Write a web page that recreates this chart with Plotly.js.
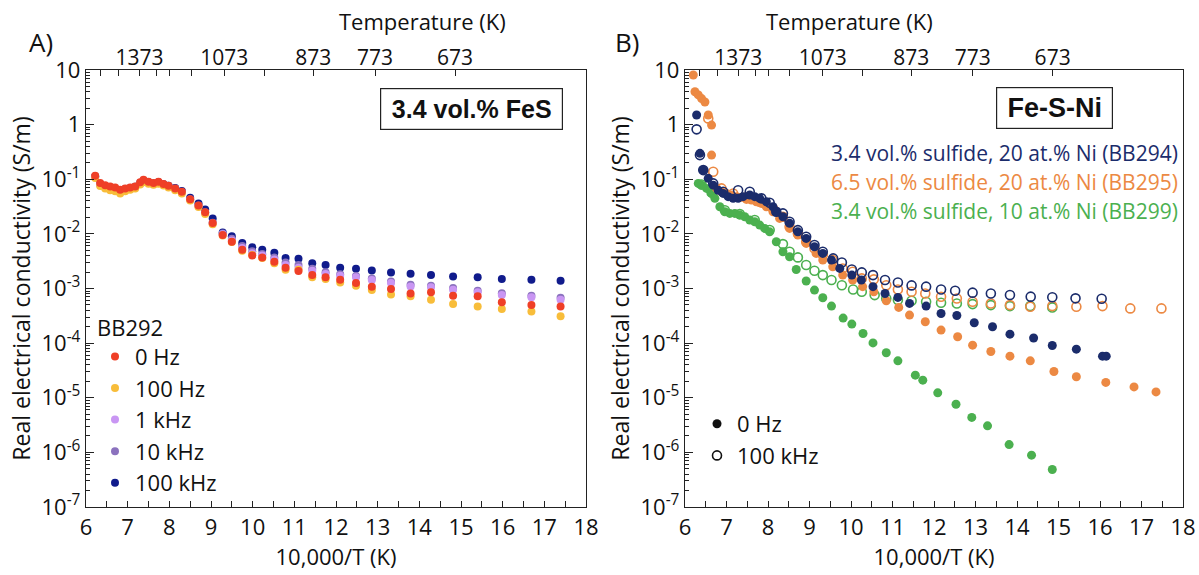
<!DOCTYPE html>
<html><head><meta charset="utf-8">
<script src="https://cdn.plot.ly/plotly-3.0.1.min.js"></script>
<style>html,body{margin:0;padding:0;background:#fff}#chart{width:1199px;height:575px}</style>
</head><body><div id="chart"></div>
<script>
// ---------- Panel A: BB292, 3.4 vol.% FeS ----------
const invT_A = [6.22,6.34,6.46,6.58,6.70,6.82,6.94,7.06,7.18,7.30,7.38,7.50,7.62,7.74,7.86,7.98,8.14,8.30,8.50,8.70,8.86,9.04,9.28,9.50,9.75,9.99,10.23,10.52,10.79,11.10,11.43,11.75,12.10,12.48,12.86,13.32,13.79,14.28,14.81,15.40,15.98,16.69,17.39];
const bb292_0Hz = [0.116,0.085,0.078,0.074,0.071,0.064,0.068,0.071,0.074,0.088,0.098,0.090,0.085,0.090,0.082,0.076,0.068,0.059,0.043,0.033,0.025,0.0158,0.0095,0.0072,0.0051,0.0040,0.0037,0.0031,0.0024,0.0021,0.00176,0.00160,0.00145,0.00126,0.00108,0.00098,0.00081,0.00085,0.00074,0.00072,0.00056,0.00050,0.00047];
const bb292_100Hz = [0.105,0.075,0.068,0.063,0.060,0.055,0.060,0.064,0.068,0.080,0.088,0.083,0.079,0.083,0.077,0.071,0.063,0.055,0.041,0.031,0.023,0.0150,0.0093,0.0071,0.0049,0.0041,0.0036,0.0029,0.0022,0.0022,0.0016,0.00149,0.00129,0.00112,0.00094,0.00078,0.00072,0.00062,0.00052,0.00047,0.00042,0.00038,0.00031];
const bb292_1kHz = [0.110,0.079,0.071,0.067,0.064,0.059,0.063,0.067,0.071,0.083,0.092,0.086,0.082,0.086,0.079,0.073,0.066,0.057,0.042,0.032,0.024,0.0155,0.0098,0.0076,0.0055,0.0044,0.0040,0.0034,0.0027,0.0024,0.00211,0.00184,0.00171,0.00160,0.00143,0.00126,0.00109,0.00105,0.00095,0.00085,0.00076,0.00069,0.00062];
const bb292_10kHz = [0.112,0.081,0.072,0.068,0.065,0.060,0.064,0.068,0.072,0.085,0.094,0.088,0.084,0.088,0.081,0.075,0.067,0.058,0.043,0.033,0.025,0.0160,0.0102,0.0081,0.0060,0.0048,0.0043,0.0037,0.0030,0.0027,0.0023,0.00198,0.00182,0.00170,0.00152,0.00135,0.00117,0.00112,0.00102,0.00091,0.00082,0.00074,0.00068];
const bb292_100kHz = [0.112,0.082,0.074,0.070,0.067,0.062,0.066,0.069,0.073,0.085,0.094,0.088,0.084,0.088,0.081,0.076,0.069,0.061,0.046,0.036,0.028,0.0192,0.0106,0.0090,0.0068,0.0057,0.0051,0.0045,0.0036,0.0035,0.0029,0.0027,0.0024,0.0023,0.00214,0.00197,0.00186,0.00176,0.00166,0.00160,0.00149,0.00144,0.00138];
const freqLabelsA = ['0 Hz','100 Hz','1 kHz','10 kHz','100 kHz'];

// ---------- Panel B: Fe-S-Ni ----------
const bb294_0Hz_x = [6.28,6.36,6.44,6.56,6.68,6.80,6.92,7.04,7.16,7.28,7.40,7.56,7.68,7.80,7.96,8.12,8.20,8.36,8.52,8.72,8.92,9.12,9.32,9.53,9.73,10.02,10.25,10.53,10.82,11.13,11.41,11.81,12.17,12.55,12.97,13.41,13.83,14.40,14.85,15.43,16.06,16.15];
const bb294_0Hz_y = [1.50,0.298,0.147,0.104,0.078,0.063,0.055,0.048,0.0447,0.0447,0.048,0.0514,0.048,0.0447,0.0388,0.0314,0.0254,0.0206,0.0156,0.0109,0.00826,0.00581,0.00439,0.00331,0.00233,0.00176,0.00143,0.00108,0.00081,0.000686,0.000533,0.000476,0.000349,0.000321,0.000236,0.000199,0.000146,0.000124,0.0000906,0.0000776,0.0000578,0.0000578];
const bb294_100kHz_x = [6.28,6.36,6.44,6.68,6.92,7.28,7.56,7.84,8.04,8.20,8.36,8.52,8.72,8.92,9.12,9.32,9.57,9.78,10.02,10.26,10.53,10.82,11.13,11.46,11.81,12.17,12.51,12.93,13.37,13.83,14.33,14.85,15.41,16.04];
const bb294_100kHz_y = [0.82,0.277,0.147,0.084,0.059,0.063,0.059,0.0447,0.0372,0.0254,0.0237,0.0167,0.0117,0.00885,0.00624,0.00471,0.00356,0.0030,0.00223,0.00197,0.00176,0.00143,0.00129,0.00114,0.00108,0.00096,0.00091,0.00084,0.00081,0.00076,0.00071,0.00069,0.00066,0.00065];
const bb295_0Hz_x = [6.20,6.24,6.32,6.40,6.48,6.56,6.64,6.64,6.76,6.88,7.00,7.12,7.24,7.36,7.48,7.60,7.72,7.84,7.96,8.12,8.28,8.52,8.72,8.92,9.16,9.32,9.56,9.80,10.04,10.28,10.55,10.85,11.15,11.41,11.79,12.17,12.57,12.93,13.37,13.83,14.32,14.89,15.43,16.14,16.82,17.35];
const bb295_0Hz_y = [8.1,4.0,3.5,3.0,2.6,1.5,0.98,0.277,0.068,0.059,0.055,0.0514,0.048,0.0466,0.0428,0.0416,0.0388,0.0361,0.0314,0.0254,0.0192,0.0126,0.0095,0.00669,0.00439,0.00331,0.0025,0.00176,0.00143,0.00108,0.00087,0.000596,0.00045,0.000326,0.000246,0.000173,0.000131,0.0000919,0.0000703,0.0000578,0.0000474,0.0000303,0.0000242,0.0000191,0.0000158,0.0000128];
const bb295_100kHz_x = [6.56,6.68,6.88,7.16,7.48,7.80,8.12,8.36,8.52,8.72,8.92,9.12,9.32,9.56,9.80,10.04,10.26,10.55,10.85,11.13,11.46,11.79,12.17,12.55,12.93,13.37,13.83,14.32,14.85,15.43,16.06,16.73,17.48];
const bb295_100kHz_y = [1.30,0.137,0.068,0.055,0.0466,0.0388,0.0292,0.0206,0.0135,0.0102,0.00718,0.00542,0.00409,0.00331,0.00233,0.00202,0.00153,0.00147,0.00115,0.00096,0.00087,0.00081,0.000706,0.000658,0.000571,0.000533,0.000497,0.000463,0.000476,0.000463,0.000476,0.000432,0.000432];
const bb299_0Hz_x = [6.32,6.40,6.52,6.64,6.72,6.84,6.96,7.08,7.20,7.32,7.44,7.56,7.68,7.80,7.92,8.04,8.20,8.36,8.52,8.68,8.92,9.12,9.32,9.53,9.81,10.02,10.29,10.53,10.85,11.13,11.55,11.73,12.09,12.53,12.91,13.29,13.81,14.35,14.85];
const bb299_0Hz_y = [0.084,0.078,0.068,0.055,0.0447,0.0314,0.0254,0.0237,0.0237,0.0221,0.0206,0.0179,0.0167,0.0145,0.0126,0.0109,0.00718,0.00471,0.00381,0.00223,0.00137,0.000935,0.000676,0.000476,0.000287,0.000223,0.000150,0.000101,0.0000665,0.0000474,0.0000259,0.0000210,0.0000123,0.0000076,0.00000436,0.00000306,0.00000139,0.00000089,0.000000485];
const bb299_100kHz_x = [6.40,6.64,6.96,7.32,7.68,8.04,8.36,8.52,8.72,8.92,9.12,9.32,9.53,9.78,10.05,10.26,10.57,10.85,11.13,11.46,11.81,12.17,12.55,12.93,13.37,13.83,14.32,14.85];
const bb299_100kHz_y = [0.080,0.057,0.027,0.023,0.018,0.0118,0.0065,0.00471,0.00371,0.00269,0.00211,0.00176,0.00143,0.00115,0.00096,0.00087,0.000757,0.000658,0.000614,0.000596,0.000571,0.000548,0.000533,0.000518,0.000497,0.000476,0.000476,0.00045];
const seriesLabelsB = ['3.4 vol.% sulfide, 20 at.% Ni (BB294)','6.5 vol.% sulfide, 20 at.% Ni (BB295)','3.4 vol.% sulfide, 10 at.% Ni (BB299)'];

// ---------- Axis ticks ----------
const decadeVals = [1e-7,1e-6,1e-5,1e-4,1e-3,1e-2,1e-1,1,10];
const decadeText = ['10<sup>-7</sup>','10<sup>-6</sup>','10<sup>-5</sup>','10<sup>-4</sup>','10<sup>-3</sup>','10<sup>-2</sup>','10<sup>-1</sup>','1','10'];
const topTemps = [1573,1473,1373,1300,1250,1173,1073,973,873,773,673];
const topLabels = ['','','1373','','','','1073','','873','773','673'];
const invTicks = [6,7,8,9,10,11,12,13,14,15,16,17,18];

// ---------- build ----------
const FONT = '"Open Sans", "Noto Sans", sans-serif';
const W = 1199, H = 575;
const px = v => v / W, py = v => 1 - v / H;
const minorY = [];
for (let e = -7; e < 1; e++) for (let m = 2; m <= 9; m++) minorY.push(m * Math.pow(10, e));
const topVals = topTemps.map(t => 10000 / t);

const colA = {'0 Hz':'#ef3f27','100 Hz':'#f8bd3a','1 kHz':'#c996f3','10 kHz':'#8b72be','100 kHz':'#101b8c'};
const valsA = {'0 Hz':bb292_0Hz,'100 Hz':bb292_100Hz,'1 kHz':bb292_1kHz,'10 kHz':bb292_10kHz,'100 kHz':bb292_100kHz};
const cNavy = '#1b2c6b', cOrange = '#ec8943', cGreen = '#4bb04f';

const traces = [];
freqLabelsA.slice().reverse().forEach(lab => {
  traces.push({type:'scatter', mode:'markers', x:invT_A, y:valsA[lab], name:lab, xaxis:'x', yaxis:'y',
    marker:{size:8, color:colA[lab]}, legend:'legend'});
});
const filled = (x, y, c) => ({type:'scatter', mode:'markers', x, y, xaxis:'x2', yaxis:'y2', showlegend:false,
  marker:{size:9, color:c}});
const open = (x, y, c) => ({type:'scatter', mode:'markers', x, y, xaxis:'x2', yaxis:'y2', showlegend:false,
  marker:{size:9, symbol:'circle-open', color:c, line:{width:1.6, color:c}}});
traces.push(open(bb299_100kHz_x, bb299_100kHz_y, cGreen));
traces.push(filled(bb299_0Hz_x, bb299_0Hz_y, cGreen));
traces.push(open(bb295_100kHz_x, bb295_100kHz_y, cOrange));
traces.push(filled(bb295_0Hz_x, bb295_0Hz_y, cOrange));
traces.push(open(bb294_100kHz_x, bb294_100kHz_y, cNavy));
traces.push(filled(bb294_0Hz_x, bb294_0Hz_y, cNavy));
// legend entries for panel B (symbol key only)
traces.push({type:'scatter', mode:'markers', x:[null], y:[null], xaxis:'x2', yaxis:'y2', name:'0 Hz', legend:'legend2',
  marker:{size:9, color:'#111'}});
traces.push({type:'scatter', mode:'markers', x:[null], y:[null], xaxis:'x2', yaxis:'y2', name:'100 kHz', legend:'legend2',
  marker:{size:9, symbol:'circle-open', color:'#111', line:{width:1.6, color:'#111'}}});
// empty carriers so the top (temperature) axes are drawn
traces.push({type:'scatter', mode:'markers', x:[null], y:[null], xaxis:'x3', yaxis:'y', showlegend:false, hoverinfo:'skip'});
traces.push({type:'scatter', mode:'markers', x:[null], y:[null], xaxis:'x4', yaxis:'y2', showlegend:false, hoverinfo:'skip'});

const lineC = '#222';
function bottomX(dom, anchor) {
  return {domain:dom, anchor, range:[6,18], tickmode:'array', tickvals:invTicks, ticktext:invTicks.map(String),
    ticks:'inside', ticklen:6, tickcolor:lineC, tickwidth:1,
    minor:{dtick:0.5, ticks:'inside', ticklen:6, tickcolor:lineC, tickwidth:1},
    showline:true, linecolor:lineC, linewidth:1.2, mirror:true, showgrid:false, zeroline:false,
    tickfont:{size:22, color:'#111'}, automargin:false,
    title:{text:'10,000/T (K)', font:{size:22, color:'#111'}, standoff:3}};
}
function topX(over, anchor) {
  return {overlaying:over, anchor, side:'top', range:[6,18], tickmode:'array', tickvals:topVals, ticktext:topLabels,
    ticks:'inside', ticklen:6, tickcolor:lineC, tickwidth:1, showline:false, showgrid:false, zeroline:false,
    tickfont:{size:21, color:'#111'}, automargin:false};
}
function leftY(anchor) {
  return {domain:[py(507), py(70)], anchor, type:'log', range:[-7,1], tickmode:'array', tickvals:decadeVals, ticktext:decadeText,
    ticks:'inside', ticklen:8, tickcolor:lineC, tickwidth:1,
    minor:{tickmode:'array', tickvals:minorY, ticks:'inside', ticklen:4, tickcolor:lineC, tickwidth:1},
    showline:true, linecolor:lineC, linewidth:1.2, mirror:true, showgrid:false, zeroline:false,
    tickfont:{size:22, color:'#111'}, automargin:false,
    title:{text:'Real electrical conductivity (S/m)', font:{size:23, color:'#111'}, standoff:4}};
}

const ann = (text, x, y, opts={}) => Object.assign({text, xref:'paper', yref:'paper', x:px(x), y:py(y), showarrow:false,
  yanchor:'middle', font:{family:FONT, size:21, color:'#111'}}, opts);

const layout = {
  width:W, height:H, margin:{l:0,r:0,t:0,b:0}, paper_bgcolor:'#fff', plot_bgcolor:'#fff',
  font:{family:FONT, color:'#111'},
  xaxis: bottomX([px(86), px(586)], 'y'),
  yaxis: leftY('x'),
  xaxis2: bottomX([px(685), px(1183)], 'y2'),
  yaxis2: leftY('x2'),
  xaxis3: topX('x', 'y'),
  xaxis4: topX('x2', 'y2'),
  legend:{x:px(95), y:py(307), xanchor:'left', yanchor:'top', bgcolor:'rgba(0,0,0,0)', borderwidth:0,
    traceorder:'reversed', font:{size:22, color:'#111'}, title:{text:'BB292', font:{size:22, color:'#111'}}},
  legend2:{x:px(697), y:py(403), xanchor:'left', yanchor:'top', bgcolor:'rgba(0,0,0,0)', borderwidth:0,
    font:{size:22, color:'#111'}},
  annotations:[
    ann('A)', 27, 42, {font:{family:FONT, size:26, color:'#111'}}),
    ann('B)', 627, 42, {font:{family:FONT, size:26, color:'#111'}}),
    ann('Temperature (K)', 337, 21, {font:{family:FONT, size:22, color:'#111'}}),
    ann('Temperature (K)', 935, 21, {font:{family:FONT, size:22, color:'#111'}}),
    ann('<b>3.4 vol.% FeS</b>', 471, 109, {font:{family:'"Liberation Sans", Arial, sans-serif', size:25, color:'#111'},
      bordercolor:'#222', borderwidth:1.2, borderpad:4, width:173, height:32}),
    ann('<b>Fe-S-Ni</b>', 1113, 108, {font:{family:'"Liberation Sans", Arial, sans-serif', size:27, color:'#111'},
      bordercolor:'#222', borderwidth:1.2, borderpad:4, width:107, height:32}),
    ann(seriesLabelsB[0], 1180, 153, {xanchor:'right', font:{family:FONT, size:21, color:cNavy}}),
    ann(seriesLabelsB[1], 1180, 182, {xanchor:'right', font:{family:FONT, size:21, color:cOrange}}),
    ann(seriesLabelsB[2], 1180, 211, {xanchor:'right', font:{family:FONT, size:21, color:cGreen}})
  ]
};
Plotly.newPlot('chart', traces, layout, {displayModeBar:false, staticPlot:true});
</script>
</body></html>
